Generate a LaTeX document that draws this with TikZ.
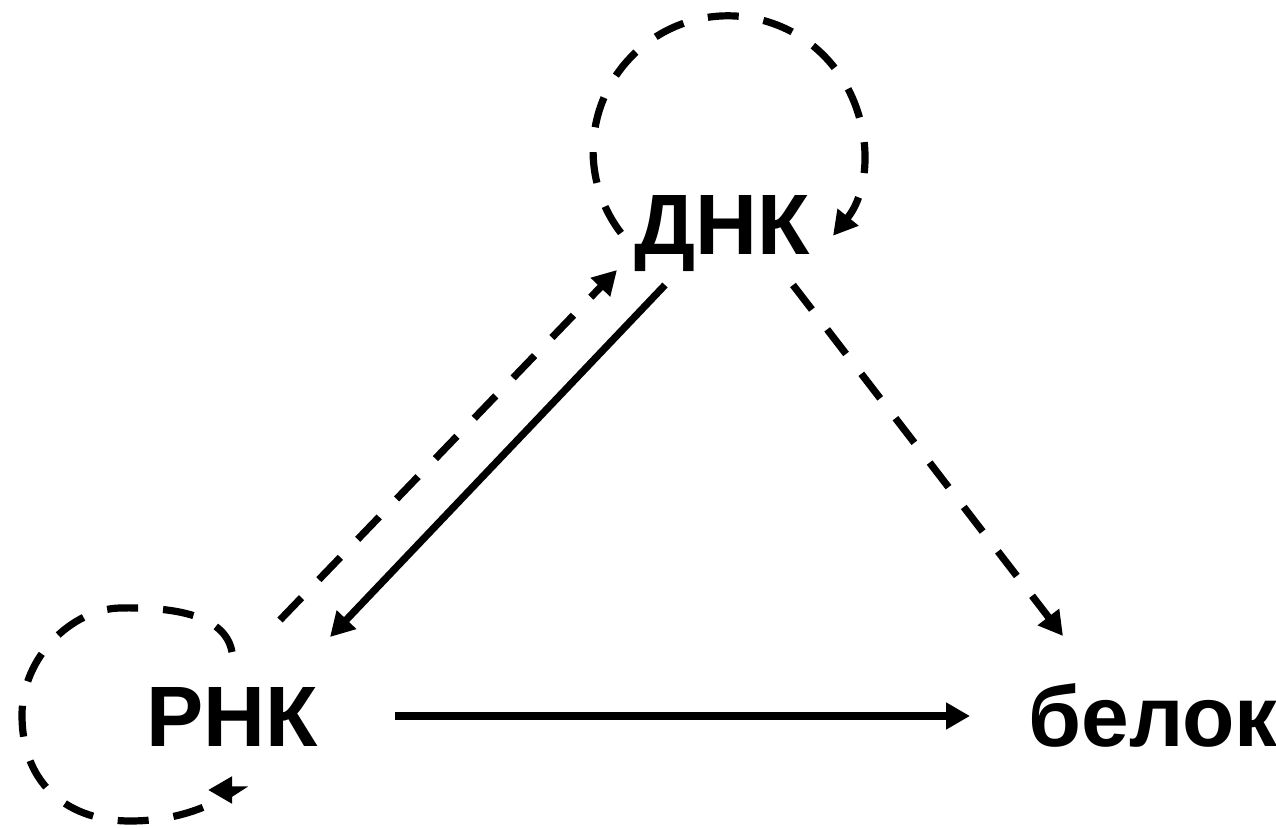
\documentclass[tikz,border=0pt]{standalone}
\usepackage{fontspec}
\setmainfont{Liberation Sans}
\usetikzlibrary{arrows.meta,calc}

\begin{document}
\begin{tikzpicture}[x=0.025cm,y=-0.025cm,
  lbl/.style={inner sep=0pt,anchor=base,font=\fontsize{61}{70}\selectfont\bfseries},
  flow/.style={line width=0.18cm,-{Triangle[length=0.6cm,width=0.64cm]}},
  dflow/.style={flow,dash pattern=on 0.775cm off 0.625cm}]
\useasboundingbox (0,0) rectangle (1276,828);

% the three molecules
\node[lbl] (dna) at (722,254) {ДНК};
\node[lbl] (rna) at (232,746) {РНК};
\node[lbl] (prot) at (1153,746) {белок};

% solid: transcription, translation
\draw[flow] ($(dna.base)+(-57,31)$) -- ($(rna.base)+(98,-109)$);
\draw[flow] ($(rna.base)+(163,-30)$) -- ($(prot.base)+(-183,-30)$);

% dashed: special transfers
\draw[dflow] ($(rna.base)+(48,-126)$) -- ($(dna.base)+(-105,16)$);
\draw[dflow] ($(dna.base)+(71,31)$) -- ($(prot.base)+(-90,-110)$);

% self loops
\draw[dflow] ($(dna.base)+(-101,-21)$) arc[start angle=-217.5, end angle=39, radius=135];
\begin{scope}[shift={(rna.base)}]
\draw[dflow] (0,-94) .. controls (-7,-134) and (-67,-139) .. (-112,-138)
  .. controls (-160,-137) and (-210,-89) .. (-210,-31)
  .. controls (-210,42) and (-160,75) .. (-102,75)
  .. controls (-55,75) and (-20,60) .. (4,44) -- (-24,44);
\end{scope}
\end{tikzpicture}
\end{document}
